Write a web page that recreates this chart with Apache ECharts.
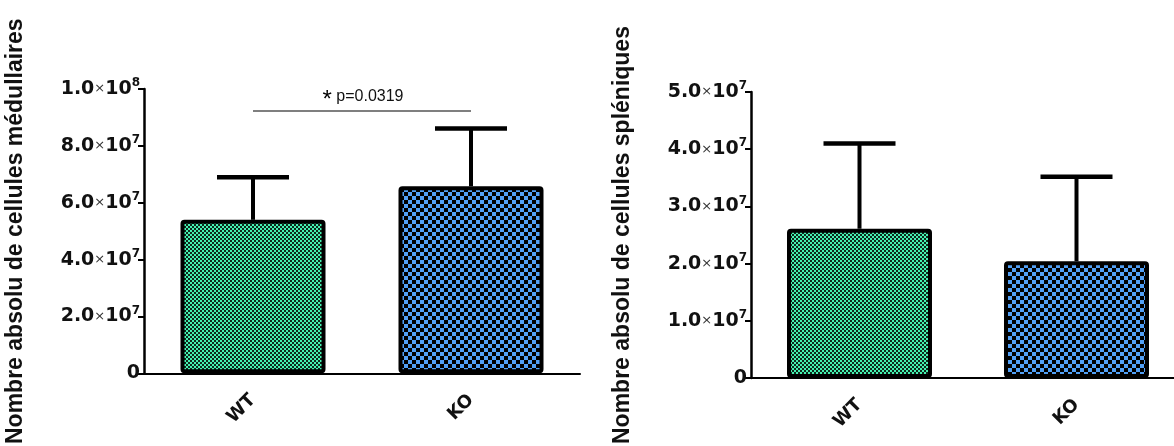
<!DOCTYPE html>
<html>
<head>
<meta charset="utf-8">
<script src="https://cdn.jsdelivr.net/npm/echarts@6/dist/echarts.min.js"></script>
<style>html,body{margin:0;padding:0;background:#fff;overflow:hidden;width:1174px;height:446px}#c{width:1190px;height:446px}</style>
</head>
<body>
<div id="c"></div>
<script>
// ---- data ----
const categories = ['WT', 'KO'];
const medMeans = [5.40e7, 6.58e7];
const medSD = [1.50e7, 2.03e7];
const splMeans = [2.61e7, 2.04e7];
const splSD = [1.49e7, 1.48e7];
const medTickLabels = ['0', '2.0|7', '4.0|7', '6.0|7', '8.0|7', '1.0|8'];
const splTickLabels = ['0', '1.0|7', '2.0|7', '3.0|7', '4.0|7', '5.0|7'];
const medTitle = 'Nombre absolu de cellules médullaires';
const splTitle = 'Nombre absolu de cellules spléniques';
const sigLevel = 9.23e7;
const sigText = 'p=0.0319';

// ---- patterns ----
function checker(cell, c1, c2) {
  const cv = document.createElement('canvas');
  cv.width = cv.height = cell * 2;
  const ctx = cv.getContext('2d');
  ctx.fillStyle = c2; ctx.fillRect(0, 0, cell * 2, cell * 2);
  ctx.fillStyle = c1;
  ctx.fillRect(0, 0, cell, cell);
  ctx.fillRect(cell, cell, cell, cell);
  return cv;
}
const greenPat = { image: checker(2, '#45f2b2', '#0e2a1c'), repeat: 'repeat' };
const bluePat = { image: checker(4, '#52a0f6', '#000000'), repeat: 'repeat' };
const fills = [greenPat, bluePat];

const TF = 'DejaVu Sans';
const rich = {
  m: { fontFamily: TF, fontWeight: 'bold', fontSize: 19, color: '#111', lineHeight: 24 },
  x: { fontFamily: TF, fontSize: 13, color: '#333', lineHeight: 24 },
  s: { fontFamily: TF, fontWeight: 'bold', fontSize: 12, color: '#111', verticalAlign: 'top', lineHeight: 11 }
};
function tickFmt(labels) {
  return function (v, i) {
    const t = labels[i];
    if (t === undefined) return '';
    if (t.indexOf('|') < 0) return '{m|' + t + '}';
    const p = t.split('|');
    return '{m|' + p[0] + '}{x|×}{m|10}{s|' + p[1] + '}';
  };
}

function xAxis(gi) {
  return {
    type: 'category', gridIndex: gi, data: categories,
    axisLine: { lineStyle: { color: '#000', width: 2 } },
    axisTick: { alignWithLabel: true, length: 6, lineStyle: { color: '#000', width: 2 } },
    axisLabel: { rotate: 45, margin: 24, fontFamily: TF, fontWeight: 'bold', fontSize: 18, color: '#111' }
  };
}
function yAxis(gi, max, interval, labels, title) {
  return {
    type: 'value', gridIndex: gi, min: 0, max: max, interval: interval,
    name: title, nameLocation: 'middle', nameGap: 117,
    nameTextStyle: { fontFamily: 'Liberation Sans', fontWeight: 'bold', fontSize: 23, color: '#111' },
    axisLine: { show: true, lineStyle: { color: '#000', width: 2.5 } },
    axisTick: { show: true, length: 6, lineStyle: { color: '#000', width: 2 } },
    splitLine: { show: false },
    axisLabel: { margin: 4, formatter: tickFmt(labels), rich: rich }
  };
}

function barSeries(gi, means) {
  return {
    type: 'bar', xAxisIndex: gi, yAxisIndex: gi, barWidth: 145,
    data: means.map((v, i) => ({ value: v, itemStyle: { color: fills[i] } })),
    itemStyle: { borderColor: '#000', borderWidth: 4, borderRadius: 2 },
    z: 2
  };
}
function errSeries(gi, means, sds) {
  return {
    type: 'custom', xAxisIndex: gi, yAxisIndex: gi, z: 3,
    data: means.map((m, i) => [i, m, sds[i]]),
    encode: { x: 0, y: 1 },
    renderItem: function (params, api) {
      const i = api.value(0), m = api.value(1), sd = api.value(2);
      const p0 = api.coord([i, m]);
      const p1 = api.coord([i, m + sd]);
      return {
        type: 'group', children: [
          { type: 'line', shape: { x1: p0[0], y1: p0[1], x2: p1[0], y2: p1[1] }, style: { stroke: '#000', lineWidth: 4 } },
          { type: 'line', shape: { x1: p1[0] - 36, y1: p1[1], x2: p1[0] + 36, y2: p1[1] }, style: { stroke: '#000', lineWidth: 4.5 } }
        ]
      };
    }
  };
}

const option = {
  backgroundColor: '#fff',
  animation: false,
  grid: [
    { left: 144, top: 89, width: 436, height: 287 },
    { left: 751, top: 92, width: 434, height: 287 }
  ],
  xAxis: [xAxis(0), xAxis(1)],
  yAxis: [
    yAxis(0, 1e8, 2e7, medTickLabels, medTitle),
    yAxis(1, 5e7, 1e7, splTickLabels, splTitle)
  ],
  series: [
    barSeries(0, medMeans),
    barSeries(1, splMeans),
    errSeries(0, medMeans, medSD),
    errSeries(1, splMeans, splSD),
    {
      type: 'custom', xAxisIndex: 0, yAxisIndex: 0, z: 4,
      data: [[0, 1, sigLevel]],
      encode: { x: 0, y: 2 },
      renderItem: function (params, api) {
        const a = api.coord([api.value(0), api.value(2)]);
        const b = api.coord([api.value(1), api.value(2)]);
        return {
          type: 'group', children: [
            { type: 'line', shape: { x1: a[0], y1: a[1], x2: b[0], y2: b[1] }, style: { stroke: '#555', lineWidth: 1.5 } },
            { type: 'text', x: (a[0] + b[0]) / 2 + 1, y: a[1] - 5,
              style: {
                text: '{st|*}{p| ' + sigText + '}', align: 'center', verticalAlign: 'bottom',
                rich: {
                  st: { fontFamily: 'Liberation Sans', fontSize: 24, fill: '#000', verticalAlign: 'top', lineHeight: 16 },
                  p: { fontFamily: 'Liberation Sans', fontSize: 16, fill: '#111', lineHeight: 18 }
                }
              } }
          ]
        };
      }
    }
  ]
};
const chart = echarts.init(document.getElementById('c'), null, { renderer: 'canvas' });
chart.setOption(option);
</script>
</body>
</html>
